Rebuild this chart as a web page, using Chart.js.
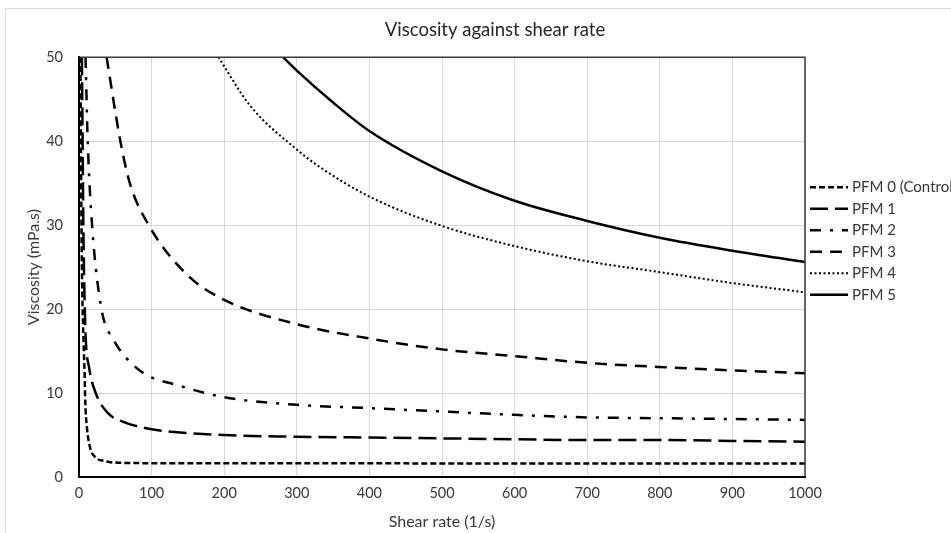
<!DOCTYPE html>
<html>
<head>
<meta charset="utf-8">
<title>Viscosity against shear rate</title>
<script src="https://cdn.jsdelivr.net/npm/chart.js@4.4.1/dist/chart.umd.min.js"></script>
<style>
  html, body { margin: 0; padding: 0; background: #fff; overflow: hidden; }
  #wrap { position: absolute; left: 5px; top: 8px; }
</style>
</head>
<body>
<div id="wrap"><canvas id="chart" width="980" height="525"></canvas></div>
<script>
// axis ranges
const xMin = 0, xMax = 1000, xStep = 100;
const yMin = 0, yMax = 50, yStep = 10;

// shear rate (1/s) and viscosity (mPa.s)
const pfm0Shear = [2, 3, 4, 6.3, 7.7, 8.6, 10.8, 15, 22, 35, 55, 100, 200, 300, 400, 500, 600, 700, 800, 900, 1000];
const pfm0Visc  = [50, 35, 25, 16, 12.4, 9, 6, 3.6, 2.4, 1.9, 1.7, 1.65, 1.65, 1.65, 1.65, 1.6, 1.6, 1.6, 1.6, 1.6, 1.6];

const pfm1Shear = [4, 5, 6, 7.5, 9, 14, 23, 40, 60, 100, 200, 300, 400, 500, 600, 700, 800, 900, 1000];
const pfm1Visc  = [50, 40, 30, 22, 17, 13, 10, 7.6, 6.6, 5.7, 5.0, 4.8, 4.7, 4.6, 4.5, 4.4, 4.4, 4.3, 4.2];

const pfm2Shear = [9, 12, 18, 31, 48, 64, 92, 133, 200, 300, 400, 500, 600, 700, 800, 900, 1000];
const pfm2Visc  = [50, 40, 30, 20, 16.3, 14.3, 12.2, 11.0, 9.5, 8.6, 8.2, 7.8, 7.4, 7.1, 7.0, 6.9, 6.8];

const pfm3Shear = [38, 57, 70, 96, 150, 200, 300, 400, 500, 600, 700, 800, 900, 1000];
const pfm3Visc  = [50, 40, 35, 30, 24, 21.1, 18.2, 16.5, 15.2, 14.4, 13.6, 13.1, 12.7, 12.35];

const pfm4Shear = [192, 236, 300, 332, 400, 500, 600, 700, 800, 900, 1000];
const pfm4Visc  = [50, 44.2, 39, 36.9, 33.4, 29.9, 27.5, 25.7, 24.4, 23.1, 22.0];

const pfm5Shear = [281, 300, 350, 400, 500, 600, 700, 800, 900, 1000];
const pfm5Visc  = [50, 48.4, 44.6, 41.2, 36.4, 32.9, 30.5, 28.5, 26.95, 25.6];

const seriesNames = ["PFM 0 (Control)", "PFM 1", "PFM 2", "PFM 3", "PFM 4", "PFM 5"];

// line looks, one per series
const lineStyles = [
  { dash: [6, 3], width: 2.5 },
  { dash: [18, 7], width: 2.5 },
  { dash: [11, 9, 3, 9], width: 2.5 },
  { dash: [12, 8], width: 2.5 },
  { dash: [2, 2.5], width: 2 },
  { dash: [], width: 2.5 }
];

const toPoints = (xs, ys) => xs.map((x, i) => ({ x: x, y: ys[i] }));
const allSeries = [
  toPoints(pfm0Shear, pfm0Visc),
  toPoints(pfm1Shear, pfm1Visc),
  toPoints(pfm2Shear, pfm2Visc),
  toPoints(pfm3Shear, pfm3Visc),
  toPoints(pfm4Shear, pfm4Visc),
  toPoints(pfm5Shear, pfm5Visc)
];

const fontFamily = "Lato, 'Open Sans', sans-serif";
Chart.defaults.font.family = fontFamily;
const textColor = '#383838';

// white background, outer chart frame, plot box
const framePlugin = {
  id: 'frame',
  beforeDraw(chart) {
    const { ctx, width, height } = chart;
    ctx.save();
    ctx.fillStyle = '#fff';
    ctx.fillRect(0, 0, width, height);
    ctx.strokeStyle = '#d9d9d9';
    ctx.lineWidth = 1;
    ctx.beginPath();
    ctx.moveTo(0.5, height);
    ctx.lineTo(0.5, 0.5);
    ctx.lineTo(width, 0.5);
    ctx.stroke();
    ctx.restore();
  },
  afterDraw(chart) {
    const { ctx, chartArea: a } = chart;
    ctx.save();
    ctx.strokeStyle = '#3a3a3a';
    ctx.lineWidth = 1.5;
    ctx.beginPath();
    ctx.moveTo(a.left, a.top);
    ctx.lineTo(a.right, a.top);
    ctx.lineTo(a.right, a.bottom);
    ctx.stroke();
    ctx.restore();
  }
};

// legend to the right of the plot, with line samples
const sideLegend = {
  id: 'sideLegend',
  afterDraw(chart) {
    const { ctx, chartArea } = chart;
    const x0 = chartArea.right + 5;
    let y = chartArea.top + 130;
    ctx.save();
    ctx.font = "15px " + fontFamily;
    ctx.textBaseline = 'middle';
    ctx.textAlign = 'left';
    chart.data.datasets.forEach(ds => {
      ctx.strokeStyle = ds.borderColor;
      ctx.lineWidth = ds.borderWidth;
      ctx.lineCap = 'butt';
      ctx.setLineDash(ds.borderDash || []);
      ctx.beginPath();
      ctx.moveTo(x0, y);
      ctx.lineTo(x0 + 38, y);
      ctx.stroke();
      ctx.setLineDash([]);
      ctx.fillStyle = textColor;
      ctx.fillText(ds.label, x0 + 42, y);
      y += 21.5;
    });
    ctx.restore();
  }
};

new Chart(document.getElementById('chart').getContext('2d'), {
  type: 'line',
  data: {
    datasets: allSeries.map((pts, i) => ({
      label: seriesNames[i],
      data: pts,
      borderColor: '#000',
      borderWidth: lineStyles[i].width,
      borderDash: lineStyles[i].dash,
      borderCapStyle: 'butt',
      pointRadius: 0,
      fill: false,
      cubicInterpolationMode: 'monotone'
    }))
  },
  options: {
    responsive: false,
    animation: false,
    layout: { padding: 0 },
    plugins: {
      legend: { display: false },
      tooltip: { enabled: false },
      title: {
        display: true,
        text: 'Viscosity against shear rate',
        color: '#262626',
        font: { size: 18.5, weight: 'normal' },
        padding: { top: 11, bottom: 16 }
      }
    },
    scales: {
      x: {
        type: 'linear',
        min: xMin,
        max: xMax,
        ticks: { stepSize: xStep, color: textColor, font: { size: 14.5 }, padding: 8, maxRotation: 0,
                 callback: v => String(v) },
        grid: { color: '#d9d9d9', lineWidth: 1, drawTicks: false },
        border: { display: true, color: '#000', width: 2 },
        title: {
          display: true,
          text: 'Shear rate (1/s)',
          color: textColor,
          font: { size: 16 },
          padding: { top: 0, bottom: 1.5 }
        },
        afterFit: scale => { scale.height = 56; }
      },
      y: {
        min: yMin,
        max: yMax,
        ticks: { stepSize: yStep, color: textColor, font: { size: 14.5 }, padding: 16 },
        grid: { color: '#d9d9d9', lineWidth: 1, drawTicks: false },
        border: { display: true, color: '#000', width: 2 },
        title: {
          display: true,
          text: 'Viscosity (mPa.s)',
          color: textColor,
          font: { size: 16 },
          padding: { top: 19, bottom: 0 }
        },
        afterFit: scale => { scale.width = 74; }
      },
      // empty axis that only keeps room for the legend on the right
      legendRoom: {
        position: 'right',
        min: 0,
        max: 1,
        grid: { display: false },
        ticks: { display: false },
        border: { display: false },
        afterFit: scale => { scale.width = 180; }
      }
    }
  },
  plugins: [framePlugin, sideLegend]
});
</script>
</body>
</html>
